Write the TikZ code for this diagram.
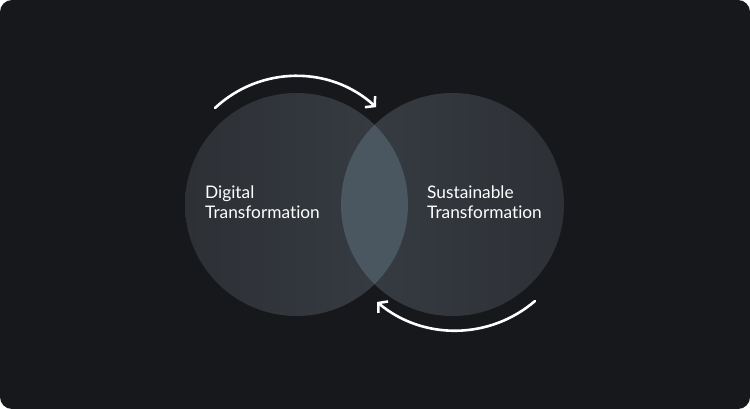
\documentclass[tikz,border=0pt]{standalone}
\usepackage{fontspec}
\setmainfont{Lato}[Ligatures={NoCommon,NoContextual}]
\usetikzlibrary{arrows.meta}
\definecolor{bgc}{HTML}{16181B}
\definecolor{lcl}{HTML}{2D3035}
\definecolor{lcr}{HTML}{373D43}
\definecolor{midc}{HTML}{4A5660}
\tikzset{
  arr/.style={draw=white, line width=2.6pt, line cap=round,
    -{Straight Barb[length=6.5pt,width=15pt,line width=2.5pt]}},
  lbl/.style={text=white, font=\fontsize{17.3}{19.5}\selectfont, align=left, inner sep=0pt, anchor=west}
}
\begin{document}
\begin{tikzpicture}[x=1pt,y=-1pt]
\useasboundingbox (0,0) rectangle (750,409);
\fill[white] (0,0) rectangle (750,409);
\fill[bgc, rounded corners=12pt] (0,0) rectangle (750,409);
\coordinate (cl) at (296.5,204.5);
\coordinate (cr) at (452.5,204.5);
\shade[left color=lcl, right color=lcr] (cl) circle[radius=111.5];
\shade[left color=lcr, right color=lcl] (cr) circle[radius=111.5];
\begin{scope}
  \clip (cl) circle[radius=111.5];
  \fill[midc] (cr) circle[radius=111.5];
\end{scope}
\node[lbl] (dt) at (205,202) {Digital\\Transformation};
\node[lbl] (st) at (427,202) {Sustainable\\Transformation};
\coordinate (a1s) at (215,108);
\coordinate (a2s) at (535,301);
\draw[arr] (a1s) arc[start angle=-133.1, end angle=-47.5, radius=118.5];
\draw[arr] (a2s) arc[start angle=49.3, end angle=130, radius=122];
\end{tikzpicture}
\end{document}
